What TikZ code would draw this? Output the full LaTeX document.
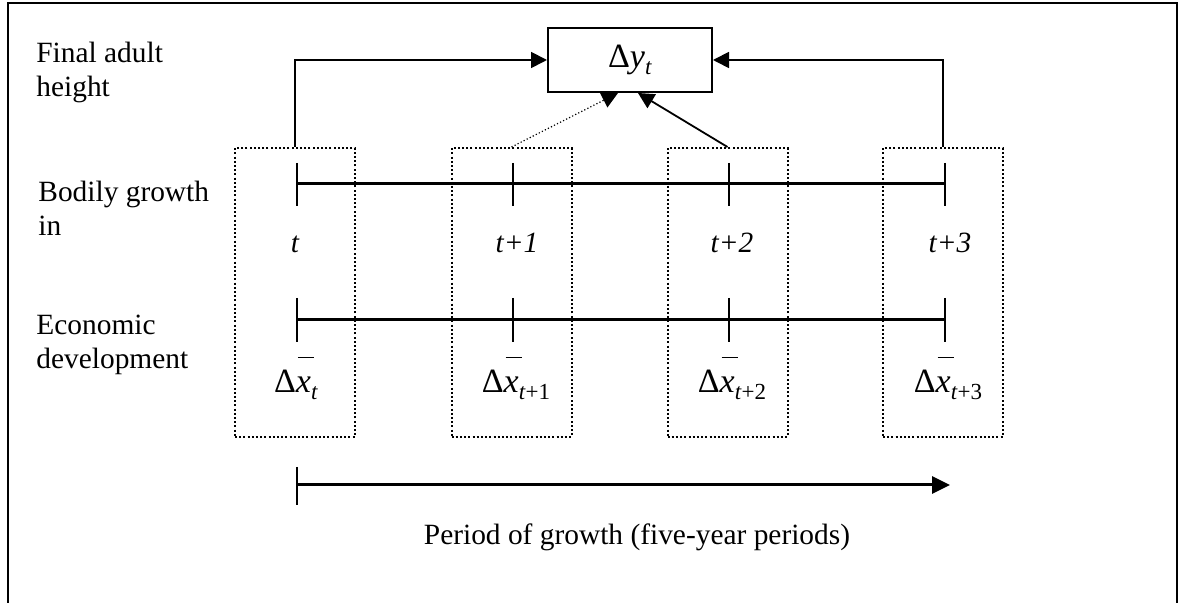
\documentclass[tikz,border=0pt]{standalone}
\usepackage{fontspec}
\setmainfont{Liberation Serif}
\usetikzlibrary{arrows.meta}
\newcommand{\xbarglyph}{\makebox[0pt][l]{\hspace{1pt}\rule[17.5pt]{8pt}{0.7pt}}\textit{x}}
\newcommand{\subsc}[1]{\raisebox{-3.5pt}{\fontsize{11.5}{13}\selectfont #1}}
\begin{document}
\begin{tikzpicture}[x=0.5pt,y=-0.5pt,
  lbl/.style={font=\fontsize{14.7}{17}\selectfont, align=left, anchor=north west, inner sep=0pt},
  mathlbl/.style={font=\fontsize{17}{20}\selectfont, inner sep=0pt, anchor=base},
  tlbl/.style={font=\fontsize{14.7}{17}\selectfont\itshape, inner sep=0pt, anchor=base},
  period/.style={draw, dash pattern=on 1pt off 1.1pt, line width=1pt, minimum width=60pt, minimum height=144.5pt, inner sep=0pt},
  resultbox/.style={draw, line width=1pt, minimum width=82pt, minimum height=32pt, inner sep=0pt, font=\fontsize{17}{20}\selectfont},
  arr/.style={-{Triangle[length=8pt,width=8pt]}, line width=0.9pt},
  axisline/.style={line width=1.5pt},
  tickline/.style={line width=1pt}
]
\clip (0,0) rectangle (1179,603);
\fill[white] (0,0) rectangle (1179,603);
\draw[line width=1.2pt] (8,3) rectangle (1177,640);

% result box
\node[resultbox] (dy) at (630,60) {Δ\textit{y}\subsc{\textit{t}}};

% period boxes
\node[period] (b1) at (295,292.5) {};
\node[period] (b2) at (511.5,292.5) {};
\node[period] (b3) at (727.5,292.5) {};
\node[period] (b4) at (943,292.5) {};

% connectors
\draw[arr] (b1.north) |- (dy.west);
\draw[arr] (b4.north) |- (dy.east);
\draw[arr, line width=0.6pt, dash pattern=on 0.6pt off 1.1pt] (b2.north) -- ([xshift=-6pt]dy.south);
\draw[arr] (b3.north) -- ([xshift=4pt]dy.south);

% left labels
\node[lbl] (l1) at (36,42) {Final adult\\height};
\node[lbl] (l2) at (38,181) {Bodily growth\\in};
\node[lbl] (l3) at (36,315) {Economic\\development};

% bodily growth line
\coordinate (a0) at (297,184);
\coordinate (a1) at (513,184);
\coordinate (a2) at (729,184);
\coordinate (a3) at (945,184);
\draw[axisline] (a0) -- (a3);
\foreach \c in {a0,a1,a2,a3} \draw[tickline] (\c) ++(0,-21) -- ++(0,43);
\node[tlbl] (ta) at (295,253) {t};
\node[tlbl] (tb) at (517,253) {t+1};
\node[tlbl] (tc) at (732,253) {t+2};
\node[tlbl] (td) at (950,253) {t+3};

% economic development line
\coordinate (e0) at (297,320);
\coordinate (e1) at (513,320);
\coordinate (e2) at (729,320);
\coordinate (e3) at (945,320);
\draw[axisline] (e0) -- (e3);
\foreach \c in {e0,e1,e2,e3} \draw[tickline] (\c) ++(0,-22) -- ++(0,44);
\node[mathlbl] (xa) at (296,393) {Δ\xbarglyph\subsc{\textit{t}}};
\node[mathlbl] (xb) at (516,393) {Δ\xbarglyph\subsc{\textit{t}+1}};
\node[mathlbl] (xc) at (732,393) {Δ\xbarglyph\subsc{\textit{t}+2}};
\node[mathlbl] (xd) at (948,393) {Δ\xbarglyph\subsc{\textit{t}+3}};

% period of growth arrow
\coordinate (g0) at (297,485);
\coordinate (g1) at (950,485);
\draw[axisline, -{Triangle[length=9pt,width=8.5pt]}] (g0) -- (g1);
\draw[tickline] (g0) ++(0,-18) -- ++(0,38);
\node[font=\fontsize{14.7}{17}\selectfont, inner sep=0pt, anchor=base] (pg) at (637,545) {Period of growth (five-year periods)};
\end{tikzpicture}
\end{document}
